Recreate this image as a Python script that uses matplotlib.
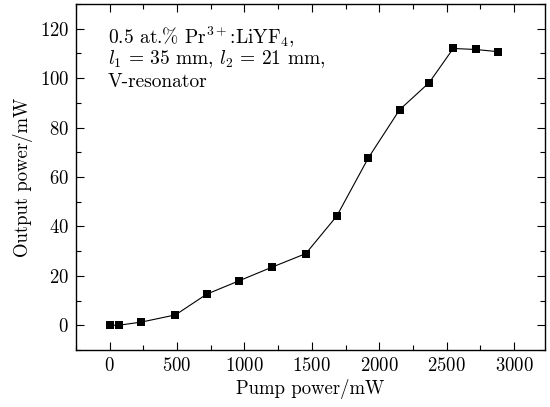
import matplotlib
matplotlib.use("Agg")
import matplotlib.pyplot as plt
from matplotlib.ticker import MultipleLocator

plt.rcParams['font.family'] = ['cmr10', 'DejaVu Serif']
plt.rcParams['mathtext.fontset'] = 'cm'
plt.rcParams['axes.formatter.use_mathtext'] = True

pump = [0, 66, 235, 488, 720, 960, 1208, 1455, 1685, 1920, 2151, 2371, 2549, 2715, 2883]
output = [0, 0, 1.3, 4.2, 12.6, 18.0, 23.6, 29.0, 44.2, 67.8, 87.2, 98.2, 112.0, 111.6, 110.7]
xticks = [0, 500, 1000, 1500, 2000, 2500, 3000]
yticks = [0, 20, 40, 60, 80, 100, 120]
annot = ["0.5 at.% Pr$^{3+}$:LiYF$_4$,", r"$l_1\,=\,35$ mm, $l_2\,=\,21$ mm,", "V-resonator"]

fig = plt.figure(figsize=(5.5, 4.07), dpi=100)
ax = fig.add_axes([76/550, 1-350/407, 469/550, 346/407])
ax.plot(pump, output, color='black', lw=0.8, marker='s', markersize=6, markeredgewidth=0)
ax.set_xlim(-250, 3230)
ax.set_ylim(-10, 130)
ax.set_xticks(xticks)
ax.set_yticks(yticks)
ax.xaxis.set_minor_locator(MultipleLocator(250))
ax.yaxis.set_minor_locator(MultipleLocator(10))
ax.tick_params(which='both', direction='in', top=True, right=True, labeltop=False, labelright=False, labelsize=13.5, width=0.8)
ax.tick_params(which='major', length=6, pad=5)
ax.tick_params(which='minor', length=3.5)
for s in ax.spines.values():
    s.set_linewidth(1.0)
ax.set_xlabel('Pump power/mW', fontsize=13.5, labelpad=3)
ax.set_ylabel('Output power/mW', fontsize=13.5, labelpad=5)

ys = [0.884, 0.827, 0.760]
for t, y in zip(annot, ys):
    ax.text(0.068, y, t, transform=ax.transAxes, fontsize=14, va='baseline', ha='left')

fig.savefig('out.png', dpi=100)
